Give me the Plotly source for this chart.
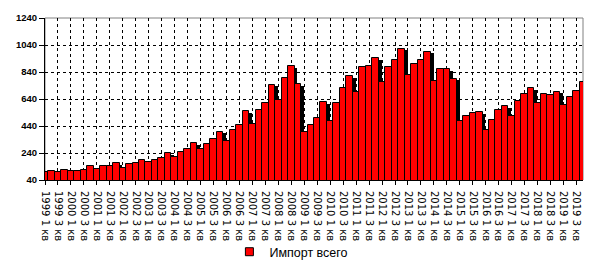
import plotly.graph_objects as go

years = list(range(1999, 2020))
quarters = [1, 2, 3, 4]
categories = [f"{y} {q} кв" for y in years for q in quarters]

imports_total = [
    96, 107, 100, 114, 107, 107, 114, 142, 124, 142,
    142, 166, 128, 159, 166, 191, 173, 191, 205, 238,
    211, 246, 268, 314, 269, 308, 343, 398, 329, 412,
    447, 551, 454, 558, 613, 745, 634, 794, 884, 752,
    398, 448, 499, 617, 478, 610, 723, 811, 693, 880,
    887, 943, 769, 874, 929, 1012, 818, 901, 929, 991,
    776, 860, 860, 790, 476, 513, 534, 541, 409, 485,
    561, 589, 513, 624, 679, 721, 610, 679, 672, 693,
    596, 658, 700, 763,
]

series_name = "Импорт всего"
y_ticks = [40, 240, 440, 640, 840, 1040, 1240]

idx = list(range(len(categories)))
tick_idx = idx[::2]
tick_text = categories[::2]

shadow_dx = 0.45
shadow_dy = 12

fig = go.Figure()
fig.add_trace(go.Bar(
    x=[i + shadow_dx for i in idx],
    y=[v - shadow_dy for v in imports_total],
    width=1.0,
    marker=dict(color="black", line=dict(width=0)),
    showlegend=False, hoverinfo="skip",
))
fig.add_trace(go.Bar(
    x=idx, y=imports_total, width=1.0,
    marker=dict(color="#FF0000", line=dict(color="black", width=1)),
    name=series_name, showlegend=False,
))
fig.add_trace(go.Scatter(
    x=[None], y=[None], mode="markers", name=series_name,
    marker=dict(symbol="square", size=8, color="#FF0000",
                line=dict(color="black", width=1)),
    showlegend=True,
))

fig.update_layout(
    width=598, height=279,
    margin=dict(l=45, r=15, t=16, b=90),
    barmode="overlay", bargap=0,
    paper_bgcolor="white", plot_bgcolor="white",
    font=dict(family="Liberation Sans, Arial, sans-serif", color="black"),
    legend=dict(orientation="h", x=0.458, xanchor="center", y=-0.445,
                yanchor="middle", font=dict(size=12.5), itemwidth=30,
                bgcolor="rgba(0,0,0,0)"),
    shapes=[dict(type="rect", xref="paper", yref="paper", x0=0, x1=1,
                 y0=0, y1=1, line=dict(color="#808080", width=1),
                 layer="between")],
)

fig.update_xaxes(
    range=[0, len(categories) - 1],
    tickmode="array", tickvals=tick_idx, ticktext=tick_text,
    tickangle=90, tickfont=dict(size=10, family="DejaVu Sans"),
    ticks="outside", ticklen=4, tickcolor="black",
    ticklabelstandoff=4,
    showgrid=True, gridcolor="black", griddash="3px,3px", gridwidth=1,
    showline=True, linecolor="black", linewidth=1,
    zeroline=False,
)
fig.update_yaxes(
    range=[40, 1240],
    tickmode="array", tickvals=y_ticks,
    tickfont=dict(size=9.5, weight="bold"),
    ticks="outside", ticklen=5, tickcolor="black",
    showgrid=True, gridcolor="black", griddash="3px,3px", gridwidth=1,
    showline=True, linecolor="black", linewidth=1,
    zeroline=False,
)

fig.write_html("out.html")
